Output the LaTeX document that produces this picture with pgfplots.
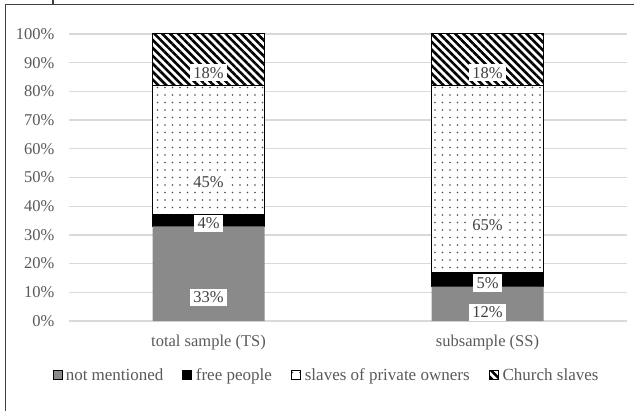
\documentclass[border=0pt]{standalone}
\usepackage{fontspec}
\setmainfont{Liberation Serif}
\usepackage{pgfplots}
\usepackage{pgfplotstable}
\pgfplotsset{compat=1.18}
\usetikzlibrary{patterns.meta}

\definecolor{gridgray}{HTML}{D9D9D9}
\definecolor{tickgray}{HTML}{595959}
\definecolor{labelgray}{HTML}{404040}
\definecolor{barGray}{HTML}{8A8A8A}

% shares in percent: not mentioned, free people, private owners' slaves, Church slaves
\pgfplotstableread{
x nm fp po cs
0 33 4 45 18
1 12 5 65 18
}\shares

\begin{document}
\begin{tikzpicture}[font=\fontsize{16.5}{19}\selectfont]
\useasboundingbox (0,0) rectangle (634pt,410pt);
\draw[line width=1.2pt, color=labelgray] (640pt,405.5pt) -- (5.5pt,405.5pt) -- (5.5pt,-5pt);
\draw[line width=1.2pt, color=labelgray] (53pt,412pt) -- (53pt,405.5pt);
\begin{axis}[
  at={(69pt,89pt)}, anchor=south west,
  scale only axis, width=558pt, height=287pt,
  ybar stacked, bar width=112pt,
  xmin=-0.5, xmax=1.5, ymin=0, ymax=100,
  xtick={0,1}, xticklabels={total sample (TS), subsample (SS)},
  ytick={0,10,...,100},
  yticklabel={\pgfmathprintnumber{\tick}\%},
  /pgf/number format/assume math mode=true,
  xticklabel style={yshift=-11pt, text=tickgray},
  yticklabel style={xshift=-11pt, text=tickgray},
  axis line style={draw=none},
  major tick style={draw=none},
  ymajorgrids, major grid style={color=gridgray, line width=1.3pt},
  point meta=explicit,
  seg/.style={visualization depends on={\thisrow{#1} \as \segv}},
  nodes near coords={\pgfmathprintnumber{\pgfplotspointmeta}\%},
  every node near coord/.append style={anchor=center, yshift=-0.7175pt*\segv,
    fill=white, inner xsep=3.5pt, inner ysep=3pt, text=labelgray},
  every axis plot post/.append style={
    legend image code/.code={\draw[##1] (0pt,-4.5pt) rectangle (9pt,4.5pt);
      \path (11pt,0pt);}},
  legend style={at={(0.4615,-0.188)}, anchor=center, draw=none, fill=none,
    legend columns=-1, text=tickgray, font=\fontsize{17}{20}\selectfont,
    /tikz/every even column/.append style={column sep=17pt}},
]
\addplot[fill=barGray, draw=none, seg=nm] table[x=x, y=nm, meta=nm] {\shares};
\addplot[fill=black, draw=black, seg=fp] table[x=x, y=fp, meta=fp] {\shares};
\addplot[draw=black, line width=1pt, preaction={fill=white},
  pattern={Dots[distance=7.5pt, radius=0.85pt]}, pattern color=black!70, seg=po]
  table[x=x, y=po, meta=po] {\shares};
\addplot[draw=black, line width=1pt, preaction={fill=white},
  pattern={Lines[angle=-45, distance=5.6pt, line width=2.6pt]}, pattern color=black, seg=cs]
  table[x=x, y=cs, meta=cs] {\shares};
\legend{not mentioned, free people, slaves of private owners, Church slaves}
\end{axis}
\end{tikzpicture}
\end{document}
